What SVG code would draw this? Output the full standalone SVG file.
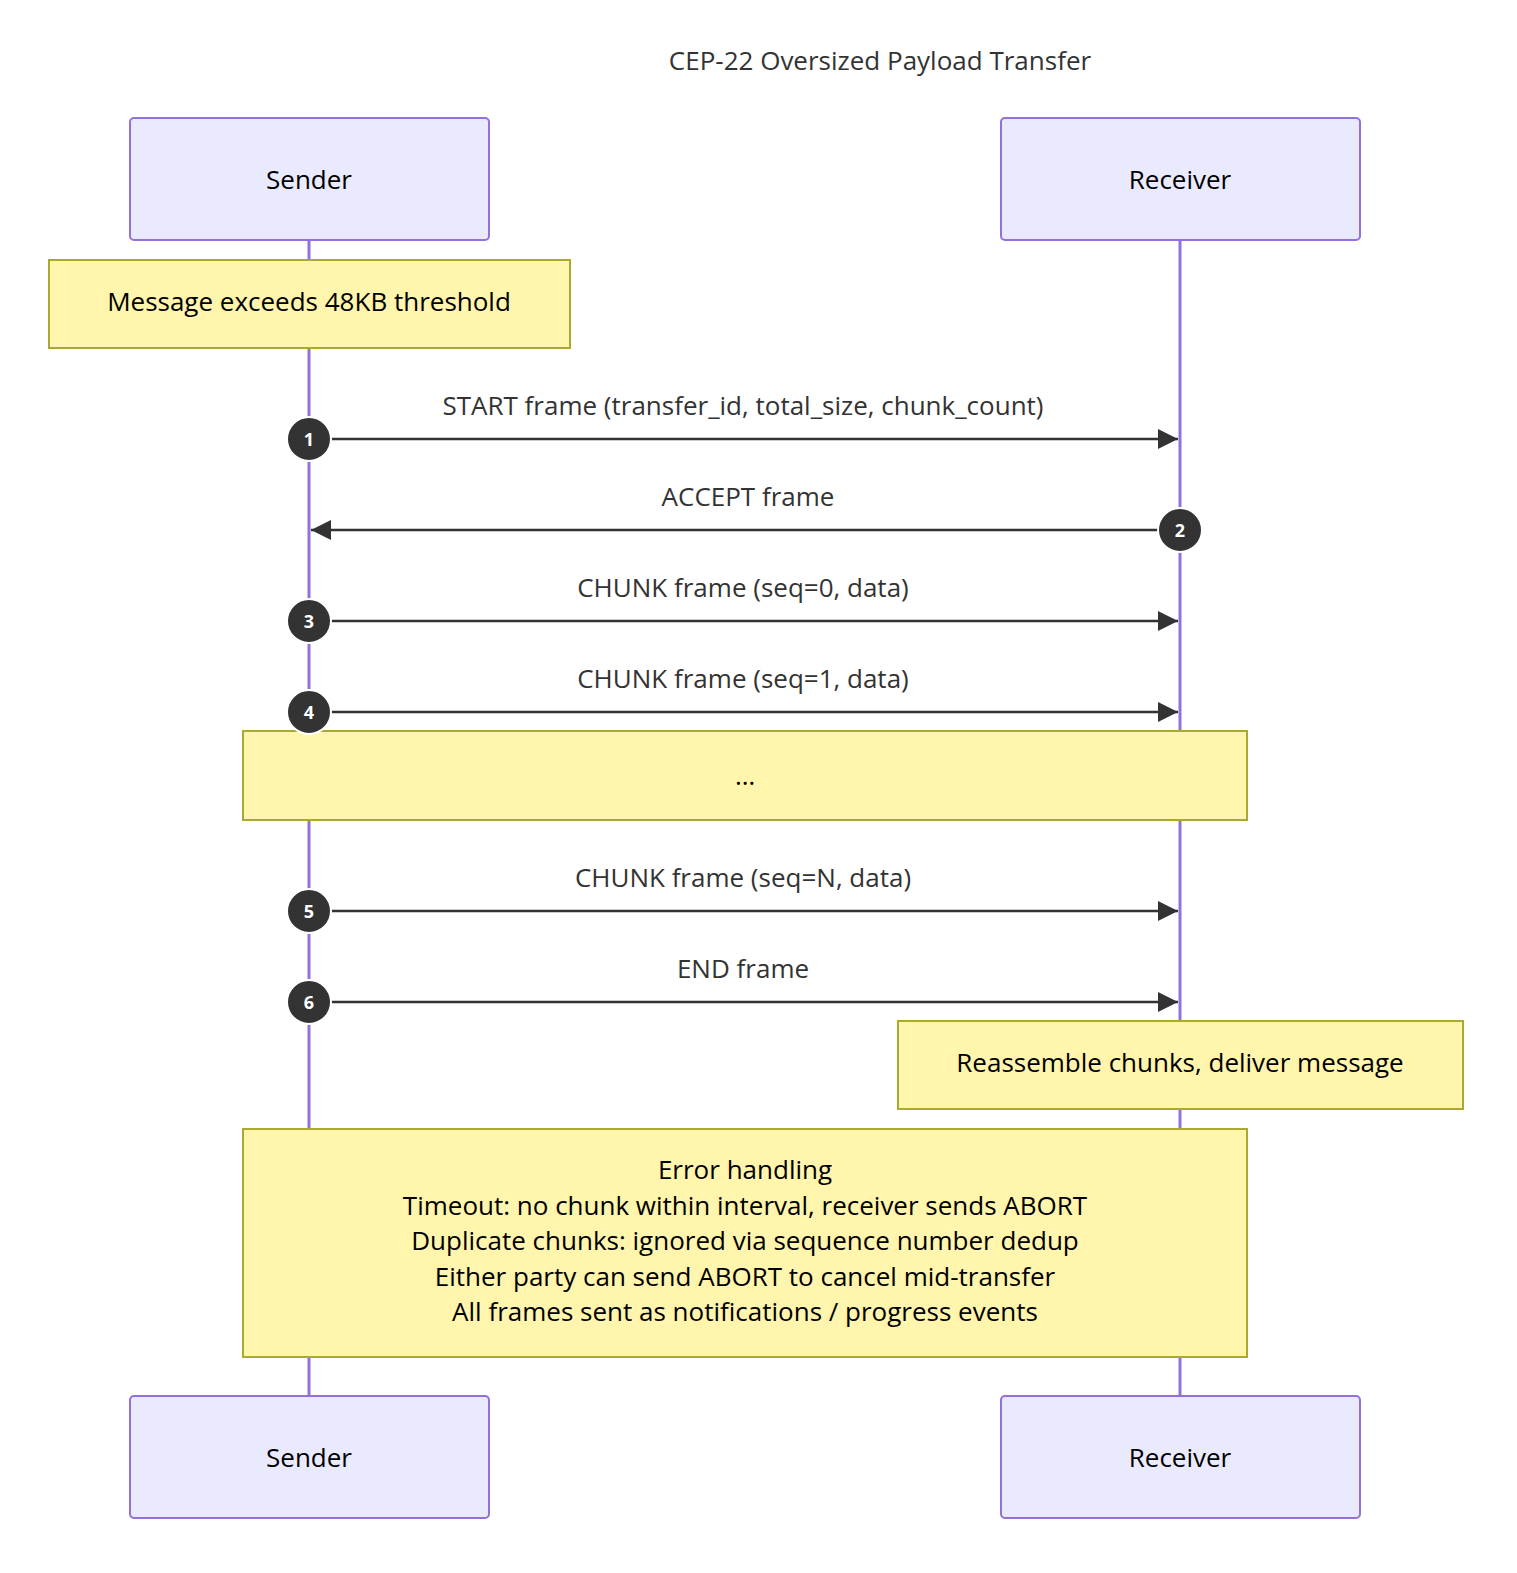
<svg xmlns="http://www.w3.org/2000/svg" width="1517" height="1573" viewBox="0 0 1517 1573">
<style>
text{font-family:"Open Sans","DejaVu Sans",sans-serif;font-size:26px;text-anchor:middle;dominant-baseline:central;fill:#000}
.actor{fill:#eaeaff;stroke:#9370db;stroke-width:2}
.note{fill:#fff5ad;stroke:#aaaa33;stroke-width:2}
.life{stroke:#9370db;stroke-width:3}
.msg{stroke:#333;stroke-width:2.5;fill:none}
.lbl{fill:#333}
.num{fill:#fff;font-size:18px;font-weight:bold}
.dot{fill:#333;stroke:#fff;stroke-width:2}
</style>
<defs>
<marker id="ah" viewBox="0 0 10 10" refX="10" refY="5" markerWidth="10" markerHeight="10" markerUnits="userSpaceOnUse" orient="auto"><path d="M0,0L10,5L0,10z" fill="#333"/></marker>
<marker id="ah2" viewBox="0 0 20 20" refX="20" refY="10" markerWidth="20" markerHeight="20" markerUnits="userSpaceOnUse" orient="auto"><path d="M0,0L20,10L0,20z" fill="#333"/></marker>
</defs>
<rect width="1517" height="1573" fill="#fff"/>
<text x="880" y="60" class="lbl">CEP-22 Oversized Payload Transfer</text>
<g id="lifelines">
<line class="life" x1="309" y1="240" x2="309" y2="1396"/>
<line class="life" x1="1180" y1="240" x2="1180" y2="1396"/>
</g>
<g id="sender-top"><rect class="actor" x="130" y="118" width="359" height="122" rx="4"/><text x="309" y="179">Sender</text></g>
<g id="receiver-top"><rect class="actor" x="1001" y="118" width="359" height="122" rx="4"/><text x="1180" y="179">Receiver</text></g>
<g id="sender-bottom"><rect class="actor" x="130" y="1396" width="359" height="122" rx="4"/><text x="309" y="1457">Sender</text></g>
<g id="receiver-bottom"><rect class="actor" x="1001" y="1396" width="359" height="122" rx="4"/><text x="1180" y="1457">Receiver</text></g>
<g id="note1"><rect class="note" x="49" y="260" width="521" height="88"/><text x="309" y="301">Message exceeds 48KB threshold</text></g>
<g id="note2"><rect class="note" x="243" y="731" width="1004" height="89"/><text x="745" y="775">…</text></g>
<g id="note3"><rect class="note" x="898" y="1021" width="565" height="88"/><text x="1180" y="1062">Reassemble chunks, deliver message</text></g>
<g id="note4"><rect class="note" x="243" y="1129" width="1004" height="228"/>
<text x="745" y="1169">Error handling</text>
<text x="745" y="1205">Timeout: no chunk within interval, receiver sends ABORT</text>
<text x="745" y="1240">Duplicate chunks: ignored via sequence number dedup</text>
<text x="745" y="1276">Either party can send ABORT to cancel mid-transfer</text>
<text x="745" y="1311">All frames sent as notifications / progress events</text>
</g>
<g id="connectors">
<line class="msg" x1="309" y1="439" x2="1178" y2="439" marker-end="url(#ah2)"/>
<text class="lbl" x="743" y="405">START frame (transfer_id, total_size, chunk_count)</text>
<line class="msg" x1="1180" y1="530" x2="311" y2="530" marker-end="url(#ah2)"/>
<text class="lbl" x="748" y="496">ACCEPT frame</text>
<line class="msg" x1="309" y1="621" x2="1178" y2="621" marker-end="url(#ah2)"/>
<text class="lbl" x="743" y="587">CHUNK frame (seq=0, data)</text>
<line class="msg" x1="309" y1="712" x2="1178" y2="712" marker-end="url(#ah2)"/>
<text class="lbl" x="743" y="678">CHUNK frame (seq=1, data)</text>
<line class="msg" x1="309" y1="911" x2="1178" y2="911" marker-end="url(#ah2)"/>
<text class="lbl" x="743" y="877">CHUNK frame (seq=N, data)</text>
<line class="msg" x1="309" y1="1002" x2="1178" y2="1002" marker-end="url(#ah2)"/>
<text class="lbl" x="743" y="968">END frame</text>
<circle class="dot" cx="309" cy="439" r="22"/><text class="num" x="309" y="439">1</text>
<circle class="dot" cx="1180" cy="530" r="22"/><text class="num" x="1180" y="530">2</text>
<circle class="dot" cx="309" cy="621" r="22"/><text class="num" x="309" y="621">3</text>
<circle class="dot" cx="309" cy="712" r="22"/><text class="num" x="309" y="712">4</text>
<circle class="dot" cx="309" cy="911" r="22"/><text class="num" x="309" y="911">5</text>
<circle class="dot" cx="309" cy="1002" r="22"/><text class="num" x="309" y="1002">6</text>
</g>
</svg>
